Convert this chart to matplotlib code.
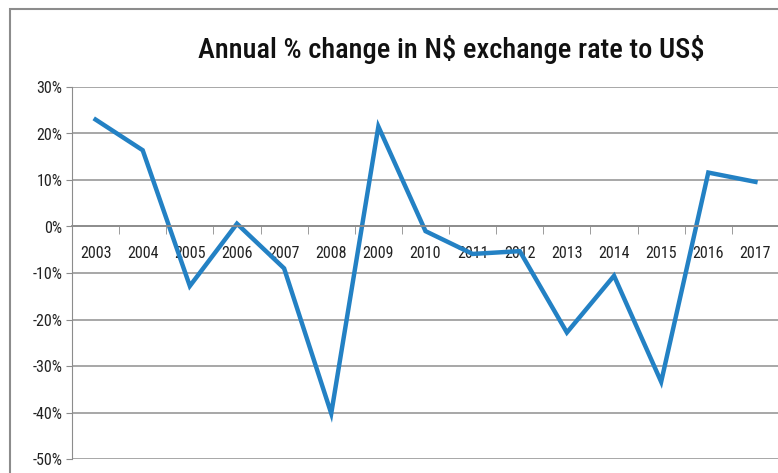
import numpy as np
import matplotlib
matplotlib.use('Agg')
import matplotlib.pyplot as plt
from matplotlib.patches import Rectangle
from matplotlib import font_manager

# data
years = ['2003', '2004', '2005', '2006', '2007', '2008', '2009', '2010',
         '2011', '2012', '2013', '2014', '2015', '2016', '2017']
change = [23.0, 16.4, -12.8, 0.6, -9.0, -40.2, 21.5, -1.0,
          -5.9, -5.3, -22.8, -10.6, -33.4, 11.6, 9.6]
yticks = [-50, -40, -30, -20, -10, 0, 10, 20, 30]

# pick a condensed face if one is around
have = {f.name for f in font_manager.fontManager.ttflist}
wanted = ['Liberation Sans Narrow', 'DejaVu Sans Condensed', 'Roboto Condensed',
          'Open Sans Condensed', 'Noto Sans Condensed', 'Roboto', 'DejaVu Sans']
fams = [f for f in wanted if f in have] or ['DejaVu Sans']
plt.rcParams['font.family'] = fams
narrow = fams[0] in ('Liberation Sans Narrow', 'DejaVu Sans Condensed',
                     'Roboto Condensed', 'Open Sans Condensed', 'Noto Sans Condensed')
tick_fs = 11.5 if narrow else 10
title_fs = 20.5 if narrow else 19

W, H = 778, 473
fig = plt.figure(figsize=(W / 100, H / 100), dpi=100)

# outer chart frame (cropped on the right and bottom)
fig.patches.append(Rectangle((10 / W, -0.1), 1.2, 1 - 9 / H + 0.1,
                             transform=fig.transFigure, fill=False,
                             edgecolor='#8c8c8c', linewidth=1.5))

ax = fig.add_axes([72 / W, 1 - 459 / H, 707 / W, (459 - 87) / H])
x = np.arange(len(years))
ax.plot(x, change, color='#2381c4', linewidth=3.2, solid_joinstyle='miter')

ax.set_xlim(-0.5, len(years) - 0.5)
ax.set_ylim(-50, 30)
ax.set_yticks(yticks)
ax.set_yticklabels([f'{v}%' for v in yticks], fontsize=tick_fs, color='#222222')
ax.grid(axis='y', color='#a0a0a0', linewidth=1.3)
ax.set_axisbelow(True)

for s in ['top', 'right']:
    ax.spines[s].set_visible(False)
ax.spines['left'].set_color('#8c8c8c')
ax.spines['bottom'].set_position(('data', 0))
ax.spines['bottom'].set_color('#8c8c8c')
ax.spines['bottom'].set_linewidth(1.3)

ax.set_xticks(x)
ax.set_xticklabels(years, fontsize=tick_fs, color='#222222')
ax.set_xticks(np.arange(-0.5, len(years)), minor=True)
ax.tick_params(axis='x', which='major', length=0, pad=14)
ax.tick_params(axis='x', which='minor', length=6, color='#8c8c8c', direction='out')
ax.tick_params(axis='y', length=4, color='#8c8c8c', pad=3)

fig.text(451 / W, 1 - 50 / H, 'Annual % change in N\\$ exchange rate to US\\$',
         ha='center', va='center', fontsize=title_fs, color='#111111',
         fontweight='medium')

fig.savefig('out.png', dpi=100)
